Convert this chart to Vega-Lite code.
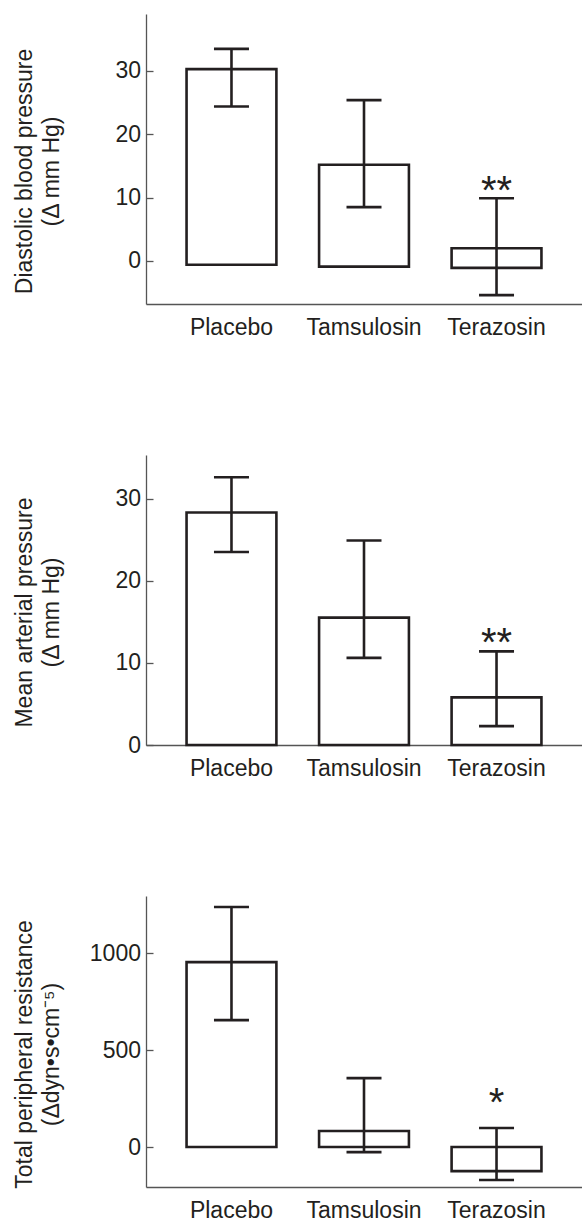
{
  "$schema": "https://vega.github.io/schema/vega-lite/v6.json",
  "padding": {"left": 12, "top": 14, "right": 0, "bottom": 0},
  "bounds": "flush",
  "spacing": 151,
  "datasets": {
    "dbp": [
      {"group": "Placebo", "top": 30.3, "bottom": -0.6, "hi": 33.5, "lo": 24.4, "sig": ""},
      {"group": "Tamsulosin", "top": 15.2, "bottom": -0.9, "hi": 25.4, "lo": 8.5, "sig": ""},
      {"group": "Terazosin", "top": 2.0, "bottom": -1.1, "hi": 9.9, "lo": -5.4, "sig": "**"}
    ],
    "map": [
      {"group": "Placebo", "top": 28.3, "bottom": 0, "hi": 32.6, "lo": 23.5, "sig": ""},
      {"group": "Tamsulosin", "top": 15.5, "bottom": 0, "hi": 24.9, "lo": 10.6, "sig": ""},
      {"group": "Terazosin", "top": 5.8, "bottom": 0, "hi": 11.4, "lo": 2.3, "sig": "**"}
    ],
    "tpr": [
      {"group": "Placebo", "top": 953, "bottom": 0, "hi": 1237, "lo": 654, "sig": ""},
      {"group": "Tamsulosin", "top": 83, "bottom": 0, "hi": 355, "lo": -26, "sig": ""},
      {"group": "Terazosin", "top": 0, "bottom": -124, "hi": 98, "lo": -170, "sig": "*"}
    ]
  },
  "vconcat": [
    {
      "width": 436,
      "height": 290,
      "data": {"name": "dbp"},
      "encoding": {
        "x": {"field": "group", "type": "nominal", "sort": null,
          "scale": {"paddingInner": 0.322, "paddingOuter": 0.306},
          "axis": {"title": null, "labelAngle": 0, "ticks": false, "tickSize": 0, "labelPadding": 12}}
      },
      "layer": [
        {"mark": {"type": "bar", "fill": "white", "stroke": "#231f20", "strokeWidth": 2.6},
          "encoding": {
            "y": {"field": "top", "type": "quantitative",
              "scale": {"domain": [-6.8, 39], "nice": false, "zero": false},
              "axis": {"title": ["Diastolic blood pressure", "(Δ mm Hg)"], "values": [0, 10, 20, 30],
                "tickSize": -7, "labelPadding": 12.5, "titleX": -110, "titleY": 157, "titleLineHeight": 27}},
            "y2": {"field": "bottom"}}},
        {"mark": {"type": "rule", "color": "#231f20", "strokeWidth": 2.6},
          "encoding": {"y": {"field": "lo", "type": "quantitative"}, "y2": {"field": "hi"}}},
        {"mark": {"type": "tick", "color": "#231f20", "size": 35, "thickness": 2.6, "opacity": 1},
          "encoding": {"y": {"field": "hi", "type": "quantitative"}}},
        {"mark": {"type": "tick", "color": "#231f20", "size": 35, "thickness": 2.6, "opacity": 1},
          "encoding": {"y": {"field": "lo", "type": "quantitative"}}},
        {"mark": {"type": "text", "fontSize": 40, "baseline": "alphabetic", "align": "center", "dy": 6, "color": "#231f20"},
          "encoding": {"y": {"field": "hi", "type": "quantitative"}, "text": {"field": "sig"}}}
      ]
    },
    {
      "width": 436,
      "height": 290,
      "data": {"name": "map"},
      "encoding": {
        "x": {"field": "group", "type": "nominal", "sort": null,
          "scale": {"paddingInner": 0.322, "paddingOuter": 0.306},
          "axis": {"title": null, "labelAngle": 0, "ticks": false, "tickSize": 0, "labelPadding": 12}}
      },
      "layer": [
        {"mark": {"type": "bar", "fill": "white", "stroke": "#231f20", "strokeWidth": 2.6},
          "encoding": {
            "y": {"field": "top", "type": "quantitative",
              "scale": {"domain": [0, 35.3], "nice": false, "zero": false},
              "axis": {"title": ["Mean arterial pressure", "(Δ mm Hg)"], "values": [0, 10, 20, 30],
                "tickSize": -7, "labelPadding": 12.5, "titleX": -110, "titleY": 157, "titleLineHeight": 27}},
            "y2": {"field": "bottom"}}},
        {"mark": {"type": "rule", "color": "#231f20", "strokeWidth": 2.6},
          "encoding": {"y": {"field": "lo", "type": "quantitative"}, "y2": {"field": "hi"}}},
        {"mark": {"type": "tick", "color": "#231f20", "size": 35, "thickness": 2.6, "opacity": 1},
          "encoding": {"y": {"field": "hi", "type": "quantitative"}}},
        {"mark": {"type": "tick", "color": "#231f20", "size": 35, "thickness": 2.6, "opacity": 1},
          "encoding": {"y": {"field": "lo", "type": "quantitative"}}},
        {"mark": {"type": "text", "fontSize": 40, "baseline": "alphabetic", "align": "center", "dy": 5, "color": "#231f20"},
          "encoding": {"y": {"field": "hi", "type": "quantitative"}, "text": {"field": "sig"}}}
      ]
    },
    {
      "width": 436,
      "height": 291,
      "data": {"name": "tpr"},
      "encoding": {
        "x": {"field": "group", "type": "nominal", "sort": null,
          "scale": {"paddingInner": 0.322, "paddingOuter": 0.306},
          "axis": {"title": null, "labelAngle": 0, "ticks": false, "tickSize": 0, "labelPadding": 12}}
      },
      "layer": [
        {"mark": {"type": "bar", "fill": "white", "stroke": "#231f20", "strokeWidth": 2.6},
          "encoding": {
            "y": {"field": "top", "type": "quantitative",
              "scale": {"domain": [-206, 1294], "nice": false, "zero": false},
              "axis": {"title": ["Total peripheral resistance", "(Δdyn•s•cm⁻⁵)"], "values": [0, 500, 1000], "format": "d",
                "tickSize": -7, "labelPadding": 12.5, "titleX": -110, "titleY": 158, "titleLineHeight": 27}},
            "y2": {"field": "bottom"}}},
        {"mark": {"type": "rule", "color": "#231f20", "strokeWidth": 2.6},
          "encoding": {"y": {"field": "lo", "type": "quantitative"}, "y2": {"field": "hi"}}},
        {"mark": {"type": "tick", "color": "#231f20", "size": 35, "thickness": 2.6, "opacity": 1},
          "encoding": {"y": {"field": "hi", "type": "quantitative"}}},
        {"mark": {"type": "tick", "color": "#231f20", "size": 35, "thickness": 2.6, "opacity": 1},
          "encoding": {"y": {"field": "lo", "type": "quantitative"}}},
        {"mark": {"type": "text", "fontSize": 40, "baseline": "alphabetic", "align": "center", "dy": -12, "color": "#231f20"},
          "encoding": {"y": {"field": "hi", "type": "quantitative"}, "text": {"field": "sig"}}}
      ]
    }
  ],
  "config": {
    "font": "Liberation Sans",
    "view": {"stroke": null},
    "axis": {
      "labelFont": "Liberation Sans", "titleFont": "Liberation Sans",
      "labelFontSize": 23, "titleFontSize": 23, "titleFontWeight": "normal",
      "labelColor": "#231f20", "titleColor": "#231f20",
      "domainColor": "#555555", "domainWidth": 1.3, "tickColor": "#555555", "tickWidth": 1.3,
      "grid": false
    }
  }
}
